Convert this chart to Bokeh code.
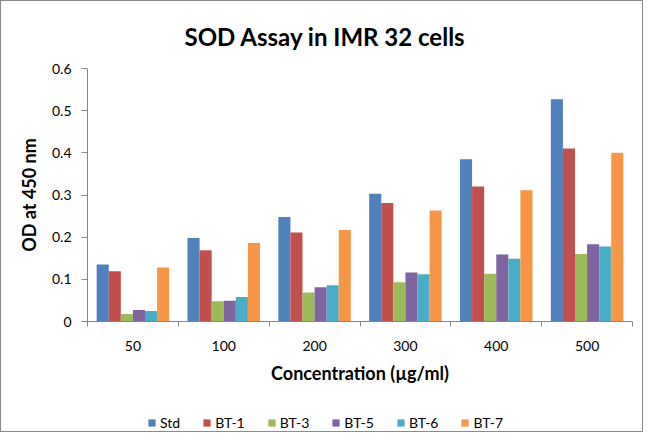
from bokeh.plotting import figure
from bokeh.models import (Range1d, FixedTicker, ColumnDataSource, Legend, LegendItem)
from bokeh.layouts import column
from bokeh.embed import file_html
from bokeh.resources import INLINE

categories = ["50", "100", "200", "300", "400", "500"]
series_names = ["Std", "BT-1", "BT-3", "BT-5", "BT-6", "BT-7"]
std = [0.135, 0.198, 0.248, 0.303, 0.385, 0.527]
bt1 = [0.119, 0.169, 0.211, 0.281, 0.320, 0.410]
bt3 = [0.018, 0.048, 0.069, 0.093, 0.113, 0.160]
bt5 = [0.027, 0.049, 0.081, 0.116, 0.159, 0.183]
bt6 = [0.025, 0.058, 0.086, 0.112, 0.149, 0.178]
bt7 = [0.128, 0.186, 0.217, 0.263, 0.311, 0.400]
series_values = [std, bt1, bt3, bt5, bt6, bt7]
colors = ["#4F81BD", "#C0504D", "#9BBB59", "#8064A2", "#4BACC6", "#F79646"]
y_ticks = [0, 0.1, 0.2, 0.3, 0.4, 0.5, 0.6]
y_tick_labels = ["0", "0.1", "0.2", "0.3", "0.4", "0.5", "0.6"]

FONT = "Lato"
AXC = "#868686"
TXT = "#000000"
W = 641

p = figure(width=W, height=385, output_backend="svg", toolbar_location=None,
           x_range=Range1d(0, len(categories)), y_range=Range1d(0, 0.6),
           title="SOD Assay in IMR 32 cells")
p.min_border_left = 86
p.min_border_right = 10
p.min_border_top = 67
p.min_border_bottom = 62
p.outline_line_color = None
p.xgrid.visible = False
p.ygrid.visible = False

p.title.text_font = FONT
p.title.text_font_size = "24px"
p.title.text_font_style = "bold"
p.title.text_color = TXT
p.title.align = "left"
p.title.offset = 97
p.title.standoff = 36

bw = 0.133
sources = []
for j, (name, vals) in enumerate(zip(series_names, series_values)):
    xs = [i + 0.5 + (j - 2.5) * bw for i in range(len(categories))]
    src = ColumnDataSource(dict(x=xs, top=vals))
    sources.append(src)
    p.vbar(x="x", top="top", width=bw, source=src, fill_color=colors[j], line_color=None)

xa = p.xaxis[0]
xa.ticker = FixedTicker(ticks=[i + 0.5 for i in range(len(categories))],
                        minor_ticks=list(range(len(categories) + 1)))
xa.major_label_overrides = {i + 0.5: c for i, c in enumerate(categories)}
xa.major_tick_out = 0
xa.major_tick_in = 0
xa.minor_tick_out = 5
xa.minor_tick_in = 0
xa.minor_tick_line_color = AXC
xa.axis_line_color = AXC
xa.major_label_text_font = FONT
xa.major_label_text_font_size = "14px"
xa.major_label_text_color = TXT
xa.major_label_standoff = 14
xa.axis_label = "Concentration (µg/ml)"
xa.axis_label_text_font = FONT
xa.axis_label_text_font_size = "18px"
xa.axis_label_text_font_style = "bold"
xa.axis_label_text_color = TXT
xa.axis_label_standoff = 8

ya = p.yaxis[0]
ya.ticker = FixedTicker(ticks=y_ticks, minor_ticks=[])
ya.major_label_overrides = {t: l for t, l in zip(y_ticks, y_tick_labels)}
ya.major_tick_out = 6
ya.major_tick_in = 0
ya.major_tick_line_color = AXC
ya.axis_line_color = AXC
ya.major_label_text_font = FONT
ya.major_label_text_font_size = "14px"
ya.major_label_text_color = TXT
ya.major_label_standoff = 10
ya.axis_label = "OD at 450 nm"
ya.axis_label_text_font = FONT
ya.axis_label_text_font_size = "18px"
ya.axis_label_text_font_style = "bold"
ya.axis_label_text_color = TXT
ya.axis_label_standoff = 9

# legend strip below the chart (its own bars fall outside its visible range)
lg = figure(width=W, height=45, output_backend="svg", toolbar_location=None,
            x_range=Range1d(0, 1), y_range=Range1d(5, 6),
            x_axis_type=None, y_axis_type=None)
lg.min_border = 0
lg.outline_line_color = None
lg.xgrid.visible = False
lg.ygrid.visible = False
leg_renderers = []
for j, src in enumerate(sources):
    r = lg.vbar(x="x", top="top", width=bw, source=src, fill_color=colors[j], line_color=None)
    leg_renderers.append(r)

legend = Legend(items=[LegendItem(label=n, renderers=[r]) for n, r in zip(series_names, leg_renderers)],
                orientation="horizontal", location=(60, 0))
legend.glyph_width = 9
legend.glyph_height = 9
legend.label_text_font = FONT
legend.label_text_font_size = "14px"
legend.label_text_color = TXT
legend.label_standoff = 4
legend.spacing = 22
legend.padding = 0
legend.margin = 0
legend.border_line_color = None
legend.background_fill_alpha = 0
lg.add_layout(legend, "center")

layout = column(p, lg, spacing=0)
layout.styles = {"border": "1px solid #8a8a8a"}

open("out.html", "w").write(file_html(layout, INLINE))
